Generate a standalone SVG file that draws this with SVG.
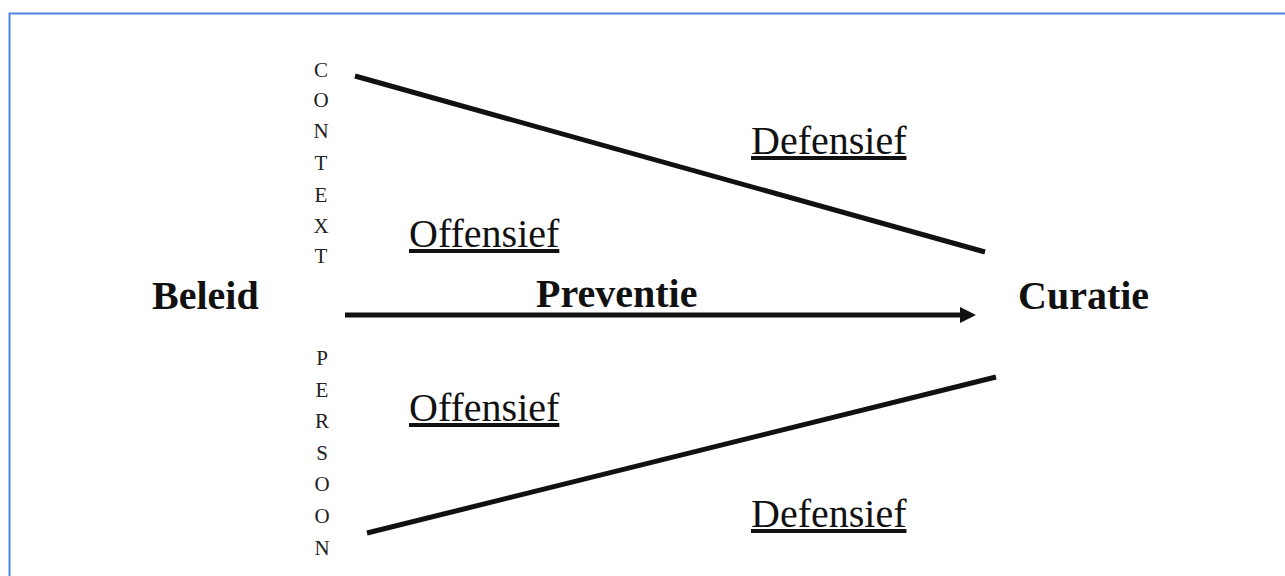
<svg xmlns="http://www.w3.org/2000/svg" width="1285" height="576" viewBox="0 0 1285 576">
<style>
.b{font-family:"Liberation Serif","Times New Roman",serif;font-weight:bold;font-size:40px;fill:#111}
.r{font-family:"Liberation Serif","Times New Roman",serif;font-size:40px;fill:#111;text-decoration:underline}
.v{font-family:"Liberation Serif","Times New Roman",serif;font-size:21px;fill:#222;text-anchor:middle}
.ln{stroke:#111;stroke-width:5;fill:none;stroke-linecap:butt}
</style>
<defs>
<marker id="ah" viewBox="0 0 10 10" refX="0" refY="5" markerWidth="3.2" markerHeight="3.2" orient="auto" markerUnits="strokeWidth">
<path d="M0,0 L10,5 L0,10 z" fill="#111"/>
</marker>
</defs>
<rect width="1285" height="576" fill="#fff"/>
<path d="M9.5,576 V13.5 H1285" fill="none" stroke="#4f86e6" stroke-width="2"/>
<g id="beleid"><text class="b" x="152" y="309">Beleid</text></g>
<g id="curatie"><text class="b" x="1018" y="309">Curatie</text></g>
<g id="context">
<text class="v" x="321"><tspan x="321" y="77">C</tspan><tspan x="321" y="107">O</tspan><tspan x="321" y="138">N</tspan><tspan x="321" y="170">T</tspan><tspan x="321" y="202">E</tspan><tspan x="321" y="233">X</tspan><tspan x="321" y="263">T</tspan></text>
</g>
<g id="persoon">
<text class="v" x="322"><tspan x="322" y="365">P</tspan><tspan x="322" y="397">E</tspan><tspan x="322" y="428">R</tspan><tspan x="322" y="460">S</tspan><tspan x="322" y="491">O</tspan><tspan x="322" y="523">O</tspan><tspan x="322" y="555">N</tspan></text>
</g>
<g id="labels">
<text class="r" x="409" y="247">Offensief</text>
<text class="r" x="409" y="421">Offensief</text>
<text class="r" x="751" y="154">Defensief</text>
<text class="r" x="751" y="527">Defensief</text>
</g>
<g id="connectors">
<line class="ln" x1="355" y1="76" x2="985" y2="252"/>
<line class="ln" x1="367" y1="533" x2="996" y2="377"/>
<line class="ln" x1="345" y1="315" x2="960" y2="315" marker-end="url(#ah)"/>
<text class="b" x="536" y="307">Preventie</text>
</g>
</svg>
